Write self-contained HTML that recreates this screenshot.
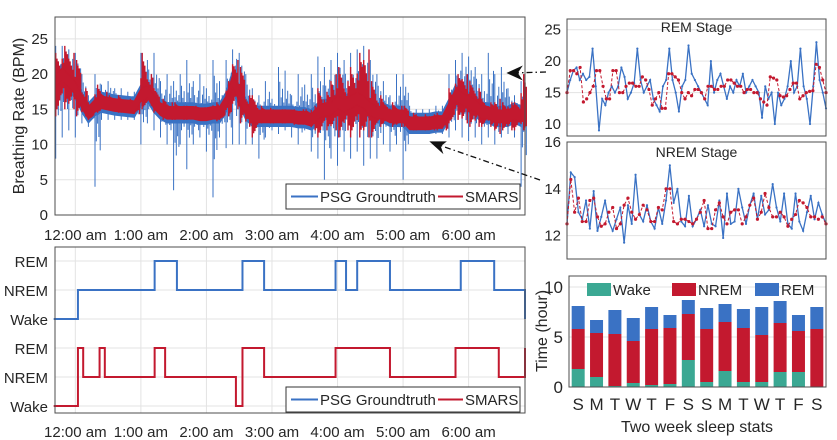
<!DOCTYPE html>
<html><head><meta charset="utf-8"><style>
html,body{margin:0;padding:0;background:#fff;}
svg{display:block;font-family:"Liberation Sans",sans-serif;}
</style></head><body>
<svg id="fig" width="837" height="440" viewBox="0 0 837 440" xmlns="http://www.w3.org/2000/svg"></svg>
<script>
// ---------- data ----------
const binHours = [-0.3,-0.2,-0.1,0.0,0.1,0.2,0.3,0.4,0.5,0.6,0.7,0.8,0.9,1.0,1.1,1.2,1.3,1.4,1.5,1.6,1.7,1.8,1.9,2.0,2.1,2.2,2.3,2.4,2.5,2.6,2.7,2.8,2.9,3.0,3.1,3.2,3.3,3.4,3.5,3.6,3.7,3.8,3.9,4.0,4.1,4.2,4.3,4.4,4.5,4.6,4.7,4.8,4.9,5.0,5.1,5.2,5.3,5.4,5.5,5.6,5.7,5.8,5.9,6.0,6.1,6.2,6.3,6.4,6.5,6.6,6.7,6.8];
const psgMean = [19,20,19,18,16,14.5,15.5,16,15.8,15.6,15.5,15.4,15.3,17,17.5,16,15,14.5,14.5,14.5,14.5,14.5,14.3,14.3,14.5,14.5,16,19,17,15,14,14,14,14,14,14,14,13.8,13.8,13.5,14.5,15,15,16,15.5,16,16.5,16,15,14.5,14.5,14,14,14,13,13,13,13,13.2,13.2,15,17,16.5,16,15.5,14.5,14.5,14,14,14,14.5,14];
const psgLow = [8,11,12,11,13,12.5,4,13.5,13.5,13.5,13.5,13.5,13.5,10,13,12,11,10,3.5,10,6.5,10,11,9,2.5,11,9.5,10,10,10,10,8,11,12,11.5,12,11,10,12,9,8,5,8,7,9,8,9,7,8,8,10,9,10,5,11.5,11.5,11.5,11.5,11.5,11.5,11,12,11,10.5,11,10,11,10,11,11.5,11,4];
const psgHigh = [24,24,23.5,23,20,17,20,18.5,19,18,18,17.5,17.5,23,22,23,19,20,19,20,22,19,20,18,22,19,22,23.5,23,20,18,17,19,16.5,21,20.5,17,20,18.5,20,22.5,21,22,23,22,23,23.5,24,22,20,19,17,20,20,15.5,15,15,15,15.5,15.5,20,22,23,22.5,21,20,23,20,21,18,17,19];
const smarsLow = [14,15,15,14,14,13.5,14.5,15,14.8,14.5,14.5,14.5,14.3,15,15.5,14.5,13.5,13.5,13.5,13.5,13.5,13.5,13.5,13.5,13.3,13.5,14,15,13,12.5,11,13,13,13,13,13,12.8,12.8,12.8,12,11,12,12,11,12,11,11,11,11,12.5,13,12.5,12.5,12.5,12,12,12,12,12,12,13,13.5,13,12.5,12.5,12.5,12.5,11.5,12,12,12,12];
const smarsHigh = [23,24,23,22,18,16,18.5,17.5,17,17,16.5,16.5,16.3,23,20,18,16.5,16,16,15.5,15.5,15.5,15.3,15.3,16,15.5,19,22,21,17,17,15.5,15.2,15,15,15,15,15,15,15.5,18,17.5,20,21,19,21,23,23.5,19,17,16,16,15.5,15.5,14.5,14.3,14.3,14.3,14.5,14.5,18,20,20,19,18,16.5,16,16.5,16,16,16,20];

const stageLabels = ["Wake","NREM","REM"];
const psgStageTimes = [-0.33,0.04,1.21,1.55,2.55,2.88,3.97,4.13,4.30,4.80,5.88,6.39,6.86];
const psgStageVals  = [0,1,2,1,2,1,2,1,2,1,2,1,0];
const smarsStageTimes = [-0.33,0.04,0.12,0.37,0.45,1.21,1.37,2.45,2.55,2.88,3.97,4.80,5.80,6.46,6.86];
const smarsStageVals  = [0,2,1,2,1,2,1,0,2,1,2,1,2,1,2];

const remPsg = [15,17,18.5,19,17,18,17,17.5,22,16,9,14,13,15,16,15,16,19,17.5,14,15,16.5,22,17,15,16,17,14,13,12,16,17,22,17,15,12,16,17,22.5,18,17,16,15,14,13,20,15,17,18,16,14,16,15,17,16,18,15,16,17,16,15,11,16,14,15,10,15,13,14,16,20,15,16,22,16,14,10,16,23,17,15,12.5];
const remSmars = [15,18.5,18.5,18,19,13.5,14,15,16,18.5,18.5,16,14,14,18.5,18.5,15,15,16,16.5,16.5,16,16,17.5,17,15.5,13,14,15,12.5,12.5,18,18,17.5,17,15,14,15,14.5,15.5,15.5,15,14,16,16,15.5,15.5,16,16,17,17,16.5,16,16,15,15.5,15.5,15,15,14,13.5,13,17.5,17.3,17,14.5,14.3,14.5,15.5,16.5,16.5,14,14.5,15,15.2,15.3,19.5,19,17,15];
const nremPsg = [12.5,14.7,14.5,13,12.7,13.5,12.3,13.9,12.2,12.8,13.5,12.6,12.2,12.7,13.2,11.7,13.3,12.5,14.6,12.9,12.6,13.3,12.6,12.3,13.2,12.5,13.5,15,13.4,14,12.6,12.4,13.7,12.4,12.7,13.1,12.4,13.3,12.5,12.4,13.5,11.9,13.8,12.5,12.6,14,13.2,12.5,13.3,13.8,12.7,13.7,12.9,13.1,14.2,13.2,12.6,13.8,12.5,12.3,13.8,12.6,12.2,13,13.7,12.7,13.4,12.9,12.5];
const nremSmars = [12.5,14.4,13,13.6,12.6,12.6,13.5,13.6,12.8,12.4,12.5,13,13.2,12.3,12.5,13.3,13.6,13,12.7,12.9,13.3,13.1,12.6,12.6,13.2,13.1,14,14,12.6,12.5,12.7,12.7,12.6,12.5,12.7,13,13.5,12.3,12.3,13.1,13.4,12.8,12.5,13,13.1,13.1,12.5,12.8,13.3,13.6,12.7,13,13.8,13.2,12.8,12.8,13,12.8,12.4,12.7,12.9,13.5,13.4,13.2,12.8,12.8,12.7,12.8,12.5];

const days = ["S","M","T","W","T","F","S","S","M","T","W","T","F","S"];
const wakeHours = [1.8,1.0,0.1,0.4,0.2,0.3,2.7,0.5,1.6,0.5,0.5,1.5,1.5,0.05];
const nremHours = [4.0,4.4,5.2,4.2,5.6,5.6,4.6,5.3,4.9,5.4,4.7,4.9,4.1,5.75];
const remHours  = [2.3,1.3,2.4,2.3,2.2,1.3,1.4,2.1,1.8,1.9,2.8,2.2,1.6,2.2];
const timeTicks = ["12:00 am","1:00 am","2:00 am","3:00 am","4:00 am","5:00 am","6:00 am"];
const bpmTicks = [0,5,10,15,20,25];

// ---------- helpers ----------
const NS="http://www.w3.org/2000/svg", svg=document.getElementById('fig');
function el(tag, attrs, parent){const e=document.createElementNS(NS,tag);for(const k in attrs)e.setAttribute(k,attrs[k]);(parent||svg).appendChild(e);return e;}
function txt(s,x,y,size,anchor,parent,extra){const t=el('text',Object.assign({x:x,y:y,'font-size':size,'text-anchor':anchor||'middle',fill:'#262626'},extra||{}),parent);t.textContent=s;return t;}
const BLUE='#3A72C4', RED='#C3192F', TEAL='#3BA893', GRID='#e3e3e3', AX='#4d4d4d';

// ---------- main panel ----------
const M={l:55,r:525,t:17,b:215,x0:-0.31,x1:6.86,y0:0,y1:28.1};
const mx=h=>M.l+(h-M.x0)/(M.x1-M.x0)*(M.r-M.l), my=v=>M.b-(v-M.y0)/(M.y1-M.y0)*(M.b-M.t);
const gMain=el('g',{});


for(let i=0;i<timeTicks.length;i++){const x=mx(i);el('line',{x1:x,x2:x,y1:M.t,y2:M.b,stroke:GRID},gMain);
 const t=txt(timeTicks[i],x,240,15,'middle',gMain);
 
 }
for(const v of bpmTicks){const y=my(v);if(v>0)el('line',{x1:M.l,x2:M.r,y1:y,y2:y,stroke:GRID},gMain);
 const t=txt(String(v),M.l-7,y+5,15,'end',gMain);
 
 }
const frac=[1,0.55,0.8,0.4,0.7];
// psg spikes
let spikes='';
for(let i=0;i<binHours.length;i++){const m=psgMean[i];
 for(let k=0;k<5;k++){const x=mx(binHours[i]+k*0.02), f=frac[(i+k)%5];
  spikes+=`M${x.toFixed(1)},${my(m-(m-psgLow[i])*(k===0?1:f*0.55)).toFixed(1)}V${my(m+(psgHigh[i]-m)*(k===0?1:f*0.7)).toFixed(1)}`;}}
const sp=el('path',{d:spikes,stroke:BLUE,'stroke-width':1,fill:'none'},gMain);


let core='M'+binHours.map((h,i)=>`${mx(h)},${my(psgMean[i]+1.4)}`).join('L');
core+='L'+binHours.map((h,i)=>`${mx(h)},${my(psgMean[i]-1.4)}`).reverse().join('L')+'Z';
el('path',{d:core,fill:BLUE,stroke:BLUE,'stroke-width':1.5},gMain);
// smars
let rs='';
for(let i=0;i<binHours.length;i++){const m=psgMean[i];
 for(let k=0;k<5;k++){const x=mx(binHours[i]+k*0.02), f=frac[(i+2*k)%5];
  rs+=`M${x.toFixed(1)},${my(m-(m-smarsLow[i])*f).toFixed(1)}V${my(m+(smarsHigh[i]-m)*f).toFixed(1)}`;}}
const rp=el('path',{d:rs,stroke:RED,'stroke-width':1.4,fill:'none'},gMain);


let rc='M'+binHours.map((h,i)=>`${mx(h)},${my(psgMean[i]+0.9)}`).join('L');
rc+='L'+binHours.map((h,i)=>`${mx(h)},${my(psgMean[i]-0.9)}`).reverse().join('L')+'Z';
el('path',{d:rc,fill:RED,stroke:RED,'stroke-width':1},gMain);
el('rect',{x:M.l,y:M.t,width:M.r-M.l,height:M.b-M.t,fill:'none',stroke:AX},gMain);
const yl=txt('Breathing Rate (BPM)',0,0,16,'middle',gMain,{transform:`translate(24,116) rotate(-90)`});



function legend(y,parent){const g=el('g',{},parent);
 el('rect',{x:286,y:y,width:234,height:25,fill:'#fff',stroke:'#333'},g);
 el('line',{x1:291,x2:318,y1:y+12.5,y2:y+12.5,stroke:BLUE,'stroke-width':2},g);
 txt('PSG Groundtruth',320,y+18,15,'start',g);
 el('line',{x1:438,x2:463,y1:y+12.5,y2:y+12.5,stroke:RED,'stroke-width':2},g);
 txt('SMARS',465,y+18,15,'start',g);return g;}
const lg1=legend(184,gMain);



// ---------- hypnogram ----------
const H={l:55,r:525,t:247,b:413};
const hx=h=>H.l+(h-M.x0)/(M.x1-M.x0)*(H.r-H.l);
const blueY=[319,290,261], redY=[406,377,348];
const gH=el('g',{});


for(let i=0;i<timeTicks.length;i++){const x=hx(i);el('line',{x1:x,x2:x,y1:H.t,y2:H.b,stroke:GRID},gH);
 const t=txt(timeTicks[i],x,437,15,'middle',gH);
 
 }
[blueY,redY].forEach(ys=>ys.forEach((y,k)=>{el('line',{x1:H.l,x2:H.r,y1:y,y2:y,stroke:GRID},gH);
 const t=txt(stageLabels[k],H.l-7,y+6,15,'end',gH);
 
 }));
function stepPath(times,vals,ys){let d=`M${hx(times[0])},${ys[vals[0]]}`;
 for(let i=1;i<times.length;i++){d+=`H${hx(times[i])}V${ys[vals[i]]}`;}return d;}
const sb=el('path',{d:stepPath(psgStageTimes,psgStageVals,blueY),stroke:BLUE,'stroke-width':2,fill:'none'},gH);


const sr=el('path',{d:stepPath(smarsStageTimes,smarsStageVals,redY),stroke:RED,'stroke-width':2,fill:'none'},gH);


el('rect',{x:H.l,y:H.t,width:H.r-H.l,height:H.b-H.t,fill:'none',stroke:AX},gH);
const lg2=legend(387,gH);



// ---------- insets ----------
function inset(name,box,yticks,y0,y1,blue,red,title,ty){
 const g=el('g',{});
 
 
 const iy=v=>box.b-(v-y0)/(y1-y0)*(box.b-box.t);
 for(const v of yticks){const y=iy(v);el('line',{x1:box.l,x2:box.r,y1:y,y2:y,stroke:GRID},g);
  const t=txt(String(v),box.l-6,y+5,15,'end',g);
  
  }
 const bx=i=>box.l+i/(blue.length-1)*(box.r-box.l), rx=i=>box.l+i/(red.length-1)*(box.r-box.l);
 const bp=el('path',{d:'M'+blue.map((v,i)=>`${bx(i)},${iy(v)}`).join('L'),stroke:BLUE,'stroke-width':1.3,fill:'none'},g);
 
 
 blue.forEach((v,i)=>el('circle',{cx:bx(i),cy:iy(v),r:1.1,fill:BLUE},g));
 const rl=el('path',{d:'M'+red.map((v,i)=>`${rx(i)},${iy(v)}`).join('L'),stroke:RED,'stroke-width':1,'stroke-dasharray':'3 2',fill:'none'},g);
 
 
 red.forEach((v,i)=>el('circle',{cx:rx(i),cy:iy(v),r:1.6,fill:RED},g));
 el('rect',{x:box.l,y:box.t,width:box.r-box.l,height:box.b-box.t,fill:'none',stroke:AX},g);
 const tt=txt(title,(box.l+box.r)/2,ty,14,'middle',g);
 
 
}
inset('rem-stage-inset',{l:567,r:826,t:19,b:136},[10,15,20,25],8.1,26.7,remPsg,remSmars,'REM Stage',32);
inset('nrem-stage-inset',{l:567,r:826,t:142,b:259},[12,14,16],11,16,nremPsg,nremSmars,'NREM Stage',157);

// arrows
const ga=el('g',{stroke:'#111','stroke-width':1.3,fill:'none'});


el('line',{x1:546,y1:72,x2:512,y2:73,'stroke-dasharray':'6 3 1.5 3'},ga);
el('path',{d:'M508,73 L521,67 L517,73 L521,79 Z',fill:'#111'},ga);
el('line',{x1:540,y1:180,x2:436,y2:144,'stroke-dasharray':'6 3 1.5 3'},ga);
el('path',{d:'M431,142 L445,142 L440,146 L442,152 Z',fill:'#111'},ga);

// ---------- bar chart ----------
const B={l:569,r:826,t:276,b:387,ymax:11.1};
const by=v=>B.b-v/B.ymax*(B.b-B.t);
const gB=el('g',{});


[0,5,10].forEach(v=>{const y=by(v);if(v>0)el('line',{x1:B.l,x2:B.r,y1:y,y2:y,stroke:GRID},gB);
 const t=txt(String(v),B.l-6,y+6,17,'end',gB);
 
 });
const step=(B.r-B.l)/days.length, bw=13;
days.forEach((d,i)=>{const cx=B.l+step*(i+0.5);
 const w=wakeHours[i], n=nremHours[i], r=remHours[i];
 const rw=el('rect',{x:cx-bw/2,y:by(w),width:bw,height:by(0)-by(w),fill:TEAL},gB);
 
 
 const rn=el('rect',{x:cx-bw/2,y:by(w+n),width:bw,height:by(w)-by(w+n),fill:RED},gB);
 
 
 const rr=el('rect',{x:cx-bw/2,y:by(w+n+r),width:bw,height:by(w+n)-by(w+n+r),fill:BLUE},gB);
 
 
 const t=txt(d,cx,410,17,'middle',gB);
 
 });
el('rect',{x:B.l,y:B.t,width:B.r-B.l,height:B.b-B.t,fill:'none',stroke:AX},gB);
const gl=el('g',{},gB);


[[587,TEAL,'Wake'],[672,RED,'NREM'],[755,BLUE,'REM']].forEach(([x,c,s])=>{el('rect',{x:x,y:283,width:24,height:13,fill:c},gl);txt(s,x+26,295,15,'start',gl);});
const xt=txt('Two week sleep stats',697,432,16,'middle',gB);


const ytl=txt('Time (hour)',0,0,16,'middle',gB,{transform:'translate(547,331) rotate(-90)'});


</script>
</body></html>
